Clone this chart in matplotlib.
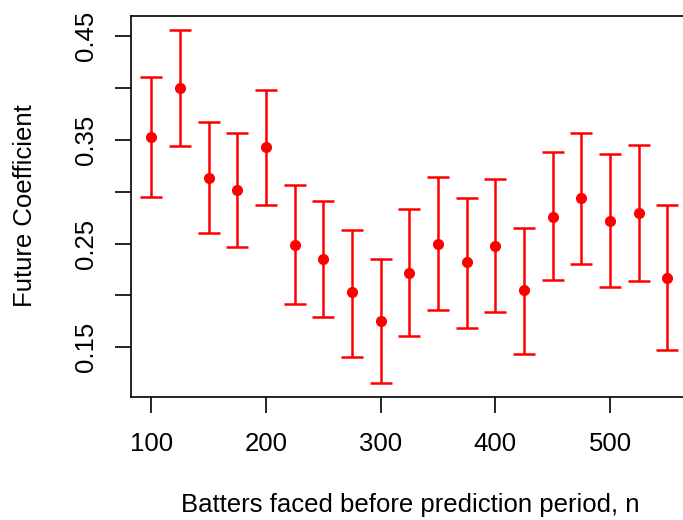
import matplotlib
matplotlib.use("Agg")
import matplotlib.pyplot as plt
import numpy as np

plt.rcParams['font.family'] = ['Liberation Sans', 'DejaVu Sans']

# batters faced before prediction period
n = [100, 125, 150, 175, 200, 225, 250, 275, 300, 325,
     350, 375, 400, 425, 450, 475, 500, 525, 550]
# future coefficient estimates and interval ends
coef = [0.353, 0.400, 0.313, 0.302, 0.343, 0.249, 0.235, 0.203, 0.175, 0.222,
        0.250, 0.232, 0.248, 0.205, 0.276, 0.294, 0.272, 0.279, 0.217]
upper = [0.411, 0.456, 0.367, 0.357, 0.398, 0.306, 0.291, 0.263, 0.235, 0.283,
         0.314, 0.294, 0.312, 0.265, 0.338, 0.357, 0.336, 0.345, 0.287]
lower = [0.295, 0.344, 0.260, 0.247, 0.287, 0.192, 0.179, 0.141, 0.116, 0.161,
         0.186, 0.169, 0.184, 0.144, 0.215, 0.230, 0.208, 0.214, 0.147]

xticks = [100, 200, 300, 400, 500]
yticks = [0.15, 0.20, 0.25, 0.30, 0.35, 0.40, 0.45]
ylabels = ['0.15', '', '0.25', '', '0.35', '', '0.45']

coef = np.array(coef)
err = [coef - np.array(lower), np.array(upper) - coef]

fig = plt.figure(figsize=(6.83, 5.2), dpi=100)
# right side of the box runs off the picture, like the reference
ax = fig.add_axes([0.1912, 0.2371, 0.8161, 0.7327])

ax.errorbar(n, coef, yerr=err, fmt='o', color='red', ecolor='red',
            markersize=7, elinewidth=1.8, capsize=8, capthick=1.8)

# R style 4% padding
xr = max(n) - min(n)
ax.set_xlim(min(n) - 0.04 * xr, max(n) + 0.04 * xr)
yr = max(upper) - min(lower)
ax.set_ylim(min(lower) - 0.04 * yr, max(upper) + 0.04 * yr)

ax.set_xticks(xticks)
ax.set_xticklabels([str(v) for v in xticks])
ax.set_yticks(yticks)
ax.set_yticklabels(ylabels, rotation=90, va='center')

ax.tick_params(axis='both', length=11.5, width=1.2, labelsize=18.5)
ax.tick_params(axis='x', pad=14)
ax.tick_params(axis='y', pad=12)
for s in ax.spines.values():
    s.set_linewidth(1.2)
ax.spines['right'].set_visible(False)

fig.text(0.036, 0.604, 'Future Coefficient', rotation=90,
         ha='center', va='center', fontsize=18.5)
fig.text(0.600, 0.029, 'Batters faced before prediction period, n',
         ha='center', va='center', fontsize=18.5)

fig.savefig('out.png', dpi=100)
